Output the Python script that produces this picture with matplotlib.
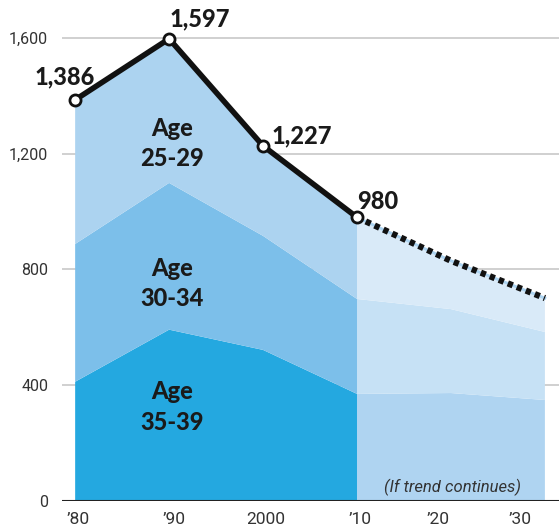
import matplotlib
matplotlib.use("Agg")
import matplotlib.pyplot as plt
import numpy as np

# historic data (1980-2010) and projection (2010-2030)
years_hist = [1980, 1990, 2000, 2010]
age_35_39_hist = [412, 592, 522, 370]
age_30_34_hist = [476, 507, 394, 328]
age_25_29_hist = [498, 498, 311, 282]
totals_hist = [1386, 1597, 1227, 980]

years_proj = [2010, 2020, 2030]
age_35_39_proj = [370, 373, 349]
age_30_34_proj = [328, 290, 235]
age_25_29_proj = [282, 167, 117]

y_ticks = [0, 400, 800, 1200, 1600]
y_tick_labels = ["0", "400", "800", "1,200", "1,600"]
x_ticks = [1980.3, 1990.5, 2000.3, 2010.3, 2018.6, 2027.4]
x_tick_labels = ["\u201980", "\u201990", "2000", "\u201910", "\u201920", "\u201930"]

hist_colors = ["#24a8e0", "#7cbfea", "#acd3f0"]
proj_colors = ["#afd4f1", "#c6e1f5", "#d9eaf8"]

plt.rcParams["font.family"] = ["Roboto", "DejaVu Sans"]

fig = plt.figure(figsize=(5.59, 5.31), dpi=100)
ax = fig.add_axes([62 / 559, 30 / 531, 497 / 559, 501 / 531])
ax.set_xlim(1978.6, 2031.5)
ax.set_ylim(0, 1731)

for y in y_ticks[1:]:
    ax.axhline(y, color="#c8c8c8", lw=1.2, zorder=0)
ax.axhline(0, color="#222222", lw=1.5, zorder=5)

ax.stackplot(years_hist, age_35_39_hist, age_30_34_hist, age_25_29_hist,
             colors=hist_colors, linewidth=0, zorder=1)
ax.stackplot(years_proj, age_35_39_proj, age_30_34_proj, age_25_29_proj,
             colors=proj_colors, linewidth=0, zorder=1)

totals_proj = np.array(age_35_39_proj) + np.array(age_30_34_proj) + np.array(age_25_29_proj)
ax.plot(years_proj, totals_proj, color="#acd3f0", lw=2, zorder=2)
ax.plot(years_proj, totals_proj, color="#111111", lw=4.5,
        linestyle=(0, (0.85, 0.7)), dash_capstyle="butt", zorder=3)
ax.plot(years_hist, totals_hist, color="#111111", lw=4, zorder=4,
        solid_joinstyle="miter")
ax.plot(years_hist, totals_hist, "o", ms=8, mfc="white", mec="#111111",
        mew=2, zorder=6)

bold = dict(fontsize=17, fontweight="black", color="#1a1a1a", zorder=7,
            family=["Lato", "DejaVu Sans"])
ax.text(1978.9, 1465, "1,386", ha="center", va="center", **bold)
ax.text(1993.3, 1665, "1,597", ha="center", va="center", **bold)
ax.text(2004.1, 1262, "1,227", ha="center", va="center", **bold)
ax.text(2012.2, 1035, "980", ha="center", va="center", **bold)

age_labels = [("Age\n25-29", 1235), ("Age\n30-34", 752), ("Age\n35-39", 325)]
for txt, y in age_labels:
    ax.text(1990.3, y, txt, ha="center", va="center", linespacing=1.4, **bold)

ax.text(2020.2, 48, "(If trend continues)", ha="center", va="center",
        fontsize=12, style="italic", color="#333333", zorder=7)

ax.set_yticks(y_ticks)
ax.set_yticklabels(y_tick_labels)
ax.set_xticks(x_ticks)
ax.set_xticklabels(x_tick_labels)
ax.tick_params(axis="y", length=0, pad=10, labelsize=11.5, labelcolor="#333333")
ax.tick_params(axis="x", length=0, pad=8, labelsize=12.5, labelcolor="#333333")
for s in ax.spines.values():
    s.set_visible(False)

fig.savefig("out.png", dpi=100)
